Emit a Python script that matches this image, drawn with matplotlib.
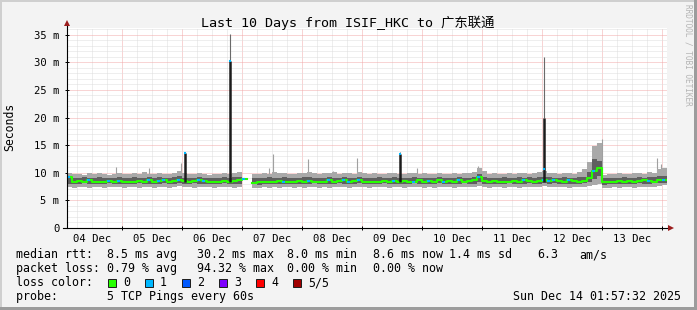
import matplotlib
matplotlib.use("Agg")
import matplotlib.pyplot as plt
import matplotlib.dates as mdates
import numpy as np
import pandas as pd
from matplotlib.ticker import MultipleLocator, FuncFormatter, NullFormatter
from matplotlib.patches import Rectangle

plt.rcParams['font.family'] = ['DejaVu Sans Mono', 'Noto Sans CJK SC']

# ---- data: rtt in ms, one sample every 2 hours over the last 10 days
end_time = pd.Timestamp("2025-12-14 01:57:32")
start_time = end_time - pd.Timedelta(days=10)
nan = np.nan

# outer smoke (min / max ping)
outer_hi = [9.9, 9.7, 9.8, 9.6, 9.9, 9.7, 10.0, 9.8, 9.6, 9.7, 9.9, 9.8,
            9.7, 9.9, 9.8, 10.1, 9.7, 9.8, 9.9, 9.7, 9.8, 10.0, 10.3, 9.9,
            9.8, 9.7, 9.9, 9.8, 9.6, 9.8, 9.7, 9.9, 9.8, 10.0, 10.2, 10.1,
            nan, 9.8, 9.7, 9.9, 9.8, 10.1, 9.9, 10.0, 9.8, 9.7, 9.9, 10.0,
            10.1, 9.9, 9.8, 10.0, 9.9, 10.2, 9.8, 9.9, 10.0, 9.8, 10.1, 9.9,
            9.8, 9.9, 9.7, 9.8, 10.0, 9.9, 9.8, 9.7, 9.9, 10.0, 9.8, 9.9,
            9.8, 9.7, 9.9, 9.8, 9.7, 9.9, 9.8, 10.0, 9.9, 10.2, 10.9, 10.3,
            9.8, 9.9, 9.7, 9.8, 9.9, 9.8, 10.0, 9.9, 9.8, 10.0, 10.1, 10.4,
            10.0, 9.9, 9.8, 10.0, 9.9, 9.8, 10.1, 10.6, 12.0, 14.8, 15.4, 9.6,
            9.7, 9.8, 9.9, 9.7, 9.8, 9.9, 10.0, 9.8, 10.2, 10.0, 10.6, 10.8]
outer_lo = [7.4, 7.3, 7.5, 7.4, 7.3, 7.4, 7.5, 7.3, 7.4, 7.4, 7.5, 7.3,
            7.4, 7.5, 7.3, 7.4, 7.4, 7.3, 7.5, 7.4, 7.3, 7.5, 7.6, 7.4,
            7.4, 7.3, 7.5, 7.4, 7.4, 7.3, 7.4, 7.5, 7.4, 7.3, 7.5, 7.6,
            nan, 7.3, 7.2, 7.4, 7.3, 7.4, 7.3, 7.5, 7.4, 7.3, 7.4, 7.3,
            7.4, 7.5, 7.3, 7.4, 7.3, 7.4, 7.5, 7.4, 7.3, 7.4, 7.5, 7.4,
            7.3, 7.4, 7.4, 7.5, 7.3, 7.4, 7.4, 7.3, 7.5, 7.4, 7.4, 7.3,
            7.4, 7.3, 7.5, 7.4, 7.4, 7.3, 7.4, 7.5, 7.4, 7.4, 7.6, 7.4,
            7.3, 7.4, 7.4, 7.3, 7.5, 7.4, 7.3, 7.4, 7.5, 7.4, 7.5, 7.6,
            7.5, 7.4, 7.4, 7.5, 7.3, 7.4, 7.4, 7.5, 7.6, 7.8, 8.0, 7.2,
            7.3, 7.4, 7.3, 7.4, 7.4, 7.3, 7.5, 7.4, 7.4, 7.5, 7.6, 7.7]
# inner smoke (2nd / 4th ping)
inner_hi = [9.3, 9.1, 9.0, 9.2, 9.1, 9.0, 9.2, 9.1, 9.0, 9.1, 9.2, 9.0,
            9.1, 9.2, 9.0, 9.1, 9.2, 9.1, 9.3, 9.1, 9.0, 9.2, 9.4, 9.1,
            9.0, 9.1, 9.2, 9.1, 9.0, 9.1, 9.0, 9.2, 9.1, 9.2, 9.3, 9.4,
            nan, 9.0, 9.1, 9.0, 9.2, 9.1, 9.0, 9.2, 9.1, 9.0, 9.1, 9.2,
            9.2, 9.1, 9.0, 9.1, 9.2, 9.1, 9.0, 9.2, 9.1, 9.0, 9.2, 9.1,
            9.0, 9.1, 9.2, 9.0, 9.1, 9.2, 9.1, 9.0, 9.1, 9.2, 9.0, 9.1,
            9.1, 9.0, 9.2, 9.1, 9.0, 9.1, 9.2, 9.1, 9.0, 9.2, 9.8, 9.2,
            9.1, 9.0, 9.1, 9.2, 9.0, 9.1, 9.2, 9.1, 9.2, 9.1, 9.2, 9.3,
            9.2, 9.1, 9.0, 9.2, 9.1, 9.0, 9.2, 9.3, 10.2, 12.4, 12.2, 9.0,
            9.1, 9.0, 9.1, 9.2, 9.0, 9.1, 9.2, 9.1, 9.3, 9.2, 9.4, 9.5]
inner_lo = [8.0, 7.9, 8.0, 8.1, 8.0, 7.9, 8.0, 8.0, 8.1, 7.9, 8.0, 8.0,
            7.9, 8.0, 8.1, 8.0, 8.0, 7.9, 8.0, 8.1, 8.0, 8.0, 8.1, 8.0,
            8.0, 8.1, 8.0, 7.9, 8.0, 7.9, 8.0, 8.1, 8.0, 7.9, 8.0, 8.1,
            nan, 7.9, 7.8, 8.0, 7.9, 8.0, 7.9, 8.0, 8.0, 7.9, 8.0, 7.9,
            8.0, 8.1, 7.9, 8.0, 8.0, 7.9, 8.1, 8.0, 7.9, 8.0, 8.1, 8.0,
            7.9, 8.0, 8.0, 8.1, 7.9, 8.0, 8.0, 7.9, 8.0, 8.1, 8.0, 7.9,
            8.0, 7.9, 8.1, 8.0, 8.0, 7.9, 8.0, 8.1, 8.0, 8.0, 8.4, 8.0,
            7.9, 8.0, 8.0, 7.9, 8.1, 8.0, 7.9, 8.0, 8.1, 8.0, 8.0, 8.1,
            8.0, 8.1, 8.0, 8.0, 7.9, 8.0, 8.0, 8.1, 8.3, 8.8, 9.4, 7.8,
            7.9, 8.0, 7.9, 8.0, 8.0, 7.9, 8.1, 8.0, 8.0, 8.1, 8.1, 8.2]
median = [9.2, 8.4, 8.5, 8.4, 8.6, 8.4, 8.3, 8.4, 8.5, 8.4, 8.5, 8.4,
          8.3, 8.4, 8.5, 8.4, 8.6, 8.4, 8.5, 8.6, 8.4, 8.5, 8.7, 8.5,
          8.4, 8.5, 8.6, 8.5, 8.4, 8.3, 8.4, 8.5, 8.4, 8.5, 8.6, 8.9,
          nan, 8.2, 8.3, 8.4, 8.3, 8.4, 8.5, 8.4, 8.3, 8.4, 8.5, 8.4,
          8.5, 8.4, 8.3, 8.4, 8.6, 8.4, 8.5, 8.6, 8.4, 8.5, 8.6, 8.4,
          8.4, 8.3, 8.4, 8.5, 8.4, 8.5, 8.4, 8.5, 8.3, 8.4, 8.6, 8.4,
          8.5, 8.4, 8.6, 8.4, 8.5, 8.4, 8.6, 8.4, 8.5, 8.6, 9.3, 8.5,
          8.4, 8.5, 8.4, 8.3, 8.4, 8.5, 8.4, 8.6, 8.5, 8.4, 8.5, 8.6,
          8.5, 8.6, 8.5, 8.4, 8.6, 8.5, 8.4, 8.5, 9.0, 10.4, 10.8, 8.4,
          8.3, 8.4, 8.5, 8.4, 8.5, 8.4, 8.5, 8.6, 8.5, 8.4, 8.6, 8.7]
# lost pings (of 5) per sample
loss = [1, 0, 0, 0, 1, 0, 0, 0, 1, 0, 1, 0,
        0, 0, 0, 0, 1, 0, 1, 1, 0, 0, 1, 0,
        0, 0, 1, 1, 0, 0, 0, 0, 0, 0, 0, 1,
        0, 0, 0, 0, 0, 0, 0, 1, 0, 0, 0, 0,
        1, 0, 0, 0, 1, 0, 0, 1, 1, 0, 1, 0,
        0, 0, 0, 0, 0, 1, 0, 0, 0, 1, 0, 0,
        1, 0, 0, 1, 0, 0, 1, 0, 0, 0, 1, 0,
        0, 0, 0, 0, 0, 0, 0, 1, 0, 0, 0, 1,
        1, 1, 0, 0, 1, 0, 0, 0, 0, 1, 0, 0,
        0, 0, 0, 0, 0, 0, 0, 0, 1, 0, 0, 1]

# short high-latency events
spike_times = ["2025-12-06 01:10", "2025-12-06 19:10", "2025-12-09 15:10", "2025-12-12 00:50"]
spike_outer = [13.8, 35.2, 13.8, 31.0]
spike_inner = [13.5, 30.2, 13.4, 20.0]
spike_median = [13.5, 30.2, 13.4, 10.7]
spike_loss = [1, 1, 1, 1]

thin_times = ["2025-12-04 21:40", "2025-12-05 10:50", "2025-12-05 23:40", "2025-12-07 10:50",
              "2025-12-07 12:20", "2025-12-08 02:20", "2025-12-08 12:20", "2025-12-08 22:00",
              "2025-12-09 22:00", "2025-12-10 22:20", "2025-12-12 16:00", "2025-12-12 22:00",
              "2025-12-12 23:50", "2025-12-13 22:00", "2025-12-13 23:40"]
thin_tops = [11.0, 10.9, 11.8, 10.9, 13.4, 12.5, 10.3, 12.7, 10.9, 11.3, 10.7, 15.4, 16.1, 12.7, 11.6]

day_labels = ["04 Dec", "05 Dec", "06 Dec", "07 Dec", "08 Dec",
              "09 Dec", "10 Dec", "11 Dec", "12 Dec", "13 Dec"]
loss_names = ["0", "1", "2", "3", "4", "5/5"]
loss_colors = ["#26ff00", "#00b8ff", "#0059ff", "#7e00ff", "#ff0000", "#a10000"]

rtt_parts = ["median rtt:", "8.5 ms avg", "30.2 ms max", "8.0 ms min", "8.6 ms now",
             "1.4 ms sd", "6.3", "am/s"]
rtt_px = [16, 107, 197, 287, 373, 449, 537, 579]
loss_parts = ["packet loss:", "0.79 % avg", "94.32 % max", "0.00 % min", "0.00 % now"]
loss_px = [16, 107, 197, 287, 373]
probe_text = "probe:       5 TCP Pings every 60s"
date_text = "Sun Dec 14 01:57:32 2025"
title = "Last 10 Days from ISIF_HKC to 广东联通"

# ---- figure
W, H = 697, 310
def fx(px):
    return px / W
def fy(py):
    return 1 - py / H

fig = plt.figure(figsize=(W / 100, H / 100), dpi=100, facecolor="#f3f3f3")
ax = fig.add_axes([fx(67), fy(228), 600 / W, 200 / H], facecolor="white")

edges = pd.date_range(start_time, periods=len(median) + 1, freq="2h")
def ext(v):
    return np.append(np.array(v, dtype=float), v[-1])

LIGHT = "#a9a9a9"
DARK = "#5f5f5f"

# thin spikes of the outer smoke
ax.vlines(pd.to_datetime(thin_times), 8.0, thin_tops, color="#a0a0a0", lw=0.8, zorder=2)
ax.fill_between(edges, ext(outer_lo), ext(outer_hi), step="post", color=LIGHT, lw=0, zorder=3)
ax.fill_between(edges, ext(inner_lo), ext(inner_hi), step="post", color=DARK, lw=0, zorder=4)
ax.step(edges, ext(median), where="post", color=loss_colors[0], lw=1.5, zorder=5)
for i, l in enumerate(loss):
    if l > 0 and not np.isnan(median[i]):
        ax.hlines(median[i], edges[i], edges[i] + pd.Timedelta(minutes=70),
                  color=loss_colors[l], lw=1.5, zorder=6)

st = pd.to_datetime(spike_times)
ax.vlines(st, spike_inner, spike_outer, color="#6a6a6a", lw=0.8, zorder=6)
ax.vlines(st, 8.4, spike_inner, color="#1c1c1c", lw=1.8, zorder=6)
for t, m, l in zip(st, spike_median, spike_loss):
    ax.hlines(m, t - pd.Timedelta(minutes=25), t + pd.Timedelta(minutes=25),
              color=loss_colors[l], lw=1.5, zorder=7)

ax.set_xlim(start_time, end_time)
ax.set_ylim(0, 36.2)

# grid
ax.yaxis.set_major_locator(MultipleLocator(5))
ax.yaxis.set_minor_locator(MultipleLocator(1))
ax.xaxis.set_major_locator(mdates.DayLocator())
ax.xaxis.set_minor_locator(mdates.HourLocator(byhour=[0, 6, 12, 18]))
ax.grid(which="minor", color="#dedede", linestyle=(0, (1, 1)), lw=0.72, snap=True)
ax.grid(which="major", color="#f2aaaa", linestyle=(0, (1, 1)), lw=0.72, snap=True)
ax.set_axisbelow(True)

ax.xaxis.set_major_formatter(NullFormatter())
ax.yaxis.set_major_formatter(FuncFormatter(lambda v, p: "0" if v == 0 else f"{v:.0f} m"))
ax.tick_params(axis="y", which="major", direction="inout", length=3, width=0.72,
               pad=4, labelsize=7.6, colors="black")
ax.tick_params(axis="x", which="major", direction="inout", length=3, width=0.72)
ax.tick_params(which="minor", length=0)
for s in ax.spines.values():
    s.set_visible(False)

# axis lines with arrows
ax.plot([-4 / 600, 603 / 600], [0, 0], color="black", lw=0.8, transform=ax.transAxes,
        clip_on=False, zorder=8)
ax.plot([0, 0], [0, 204 / 200], color="black", lw=0.8, transform=ax.transAxes,
        clip_on=False, zorder=8)
ax.plot([604 / 600], [0], marker=">", ms=4.5, color="#9b1c1c", mew=0,
        transform=ax.transAxes, clip_on=False, zorder=9)
ax.plot([0], [205 / 200], marker="^", ms=4.5, color="#9b1c1c", mew=0,
        transform=ax.transAxes, clip_on=False, zorder=9)

noons = pd.date_range("2025-12-04 12:00", periods=len(day_labels), freq="D")
for t, lab in zip(noons, day_labels):
    ax.text(t, -14 / 200, lab, ha="center", va="baseline", fontsize=7.6,
            transform=ax.get_xaxis_transform())

# texts
fig.text(fx(348), fy(27), title, ha="center", va="baseline", fontsize=9.6)
fig.text(fx(10), fy(127), "Seconds", rotation=90, ha="center", va="center", fontsize=8.3)
fig.text(fx(688), fy(4), "RRDTOOL / TOBI OETIKER", rotation=270, ha="center", va="top",
         fontsize=5.6, color="#b4b4b4")

for part, px in zip(rtt_parts, rtt_px):
    fig.text(fx(px), fy(258), part, ha="left", va="baseline", fontsize=8.35)
for part, px in zip(loss_parts, loss_px):
    fig.text(fx(px), fy(272), part, ha="left", va="baseline", fontsize=8.35)
fig.text(fx(16), fy(286), "loss color:", ha="left", va="baseline", fontsize=8.35)
for k, (name, c) in enumerate(zip(loss_names, loss_colors)):
    x0 = 108 + 37 * k
    fig.patches.append(Rectangle((fx(x0), fy(287)), 8 / W, 8 / H, facecolor=c,
                                 edgecolor="#202020", lw=0.72, transform=fig.transFigure))
    fig.text(fx(x0 + 15), fy(286), name, ha="left", va="baseline", fontsize=8.35)
fig.text(fx(16), fy(300), probe_text, ha="left", va="baseline", fontsize=8.35)
fig.text(fx(681), fy(300), date_text, ha="right", va="baseline", fontsize=8.35)

# frame around the image
for (x0, y0, w, h, c) in [(0, 0, 2, 310, "#cfcfcf"), (0, 0, 697, 2, "#cfcfcf"),
                          (694, 0, 3, 310, "#9c9c9c"), (0, 307, 697, 3, "#9c9c9c")]:
    fig.patches.append(Rectangle((fx(x0), fy(y0 + h)), w / W, h / H, facecolor=c,
                                 edgecolor="none", transform=fig.transFigure))

fig.savefig("out.png", dpi=100, facecolor=fig.get_facecolor())
